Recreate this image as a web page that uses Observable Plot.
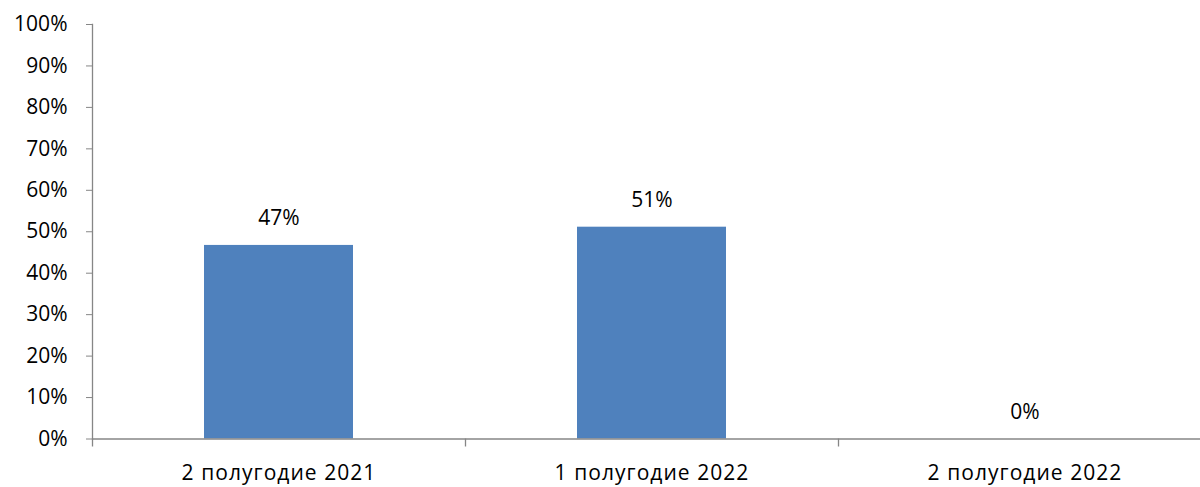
<!DOCTYPE html>
<html>
<head>
<meta charset="utf-8">
<script src="https://cdn.jsdelivr.net/npm/d3@7"></script>
<script src="https://cdn.jsdelivr.net/npm/@observablehq/plot@0.6"></script>
<style>
  html, body { margin: 0; padding: 0; background: #fff; }
  #chart { width: 1200px; height: 487px; overflow: hidden; }
  #chart g[aria-label="x-axis tick label"] text { letter-spacing: 1.05px; }
</style>
</head>
<body>
<div id="chart"></div>
<script>
const categories = ["2 полугодие 2021", "1 полугодие 2022", "2 полугодие 2022"];
const values = [46.7, 51.1, 0];
const valueLabels = ["47%", "51%", "0%"];
const yTicks = [0, 10, 20, 30, 40, 50, 60, 70, 80, 90, 100];

const data = categories.map((c, i) => ({category: c, value: values[i], label: valueLabels[i]}));

const W = 1200, H = 487;
const mLeft = 92, mTop = 24, yBottom = 438.5;
const step = 373;
const xRange = [mLeft, mLeft + step * categories.length];
const axisColor = "#868686";
const font = "'Open Sans', 'Liberation Sans', Arial, sans-serif";
const fs = 21;

const chart = Plot.plot({
  width: W,
  height: H,
  marginLeft: mLeft,
  marginTop: mTop,
  marginBottom: H - yBottom,
  marginRight: 0,
  style: {fontFamily: font, fontSize: fs + "px", color: "#000", background: "#fff", overflow: "visible"},
  x: {type: "band", domain: categories, range: xRange, padding: 0, axis: null},
  y: {domain: [0, 100], range: [yBottom, mTop], axis: null},
  marks: [
    Plot.barY(data, {x: "category", y: "value", fill: "#4F81BD", insetLeft: 112, insetRight: 112}),
    Plot.frame({anchor: "left", stroke: axisColor, strokeWidth: 1.3}),
    Plot.ruleY([0], {stroke: axisColor, strokeWidth: 1.3}),
    Plot.ruleX(categories, {x: d => d, dx: -step / 2, y1: 0, y2: 0, insetTop: 8, stroke: axisColor, strokeWidth: 1.3}),
    Plot.axisY({ticks: yTicks, tickFormat: d => d + "%", tickSize: 6, tickPadding: 19, stroke: axisColor, fill: "#000", fontSize: fs, fontFamily: font, label: null}),
    Plot.axisX({tickSize: 0, tickPadding: 26, fill: "#000", fontSize: fs, fontFamily: font, label: null}),
    Plot.text(data, {x: "category", y: "value", text: "label", dy: -27, fill: "#000", fontSize: fs, fontFamily: font})
  ]
});
document.getElementById("chart").appendChild(chart);
</script>
</body>
</html>
